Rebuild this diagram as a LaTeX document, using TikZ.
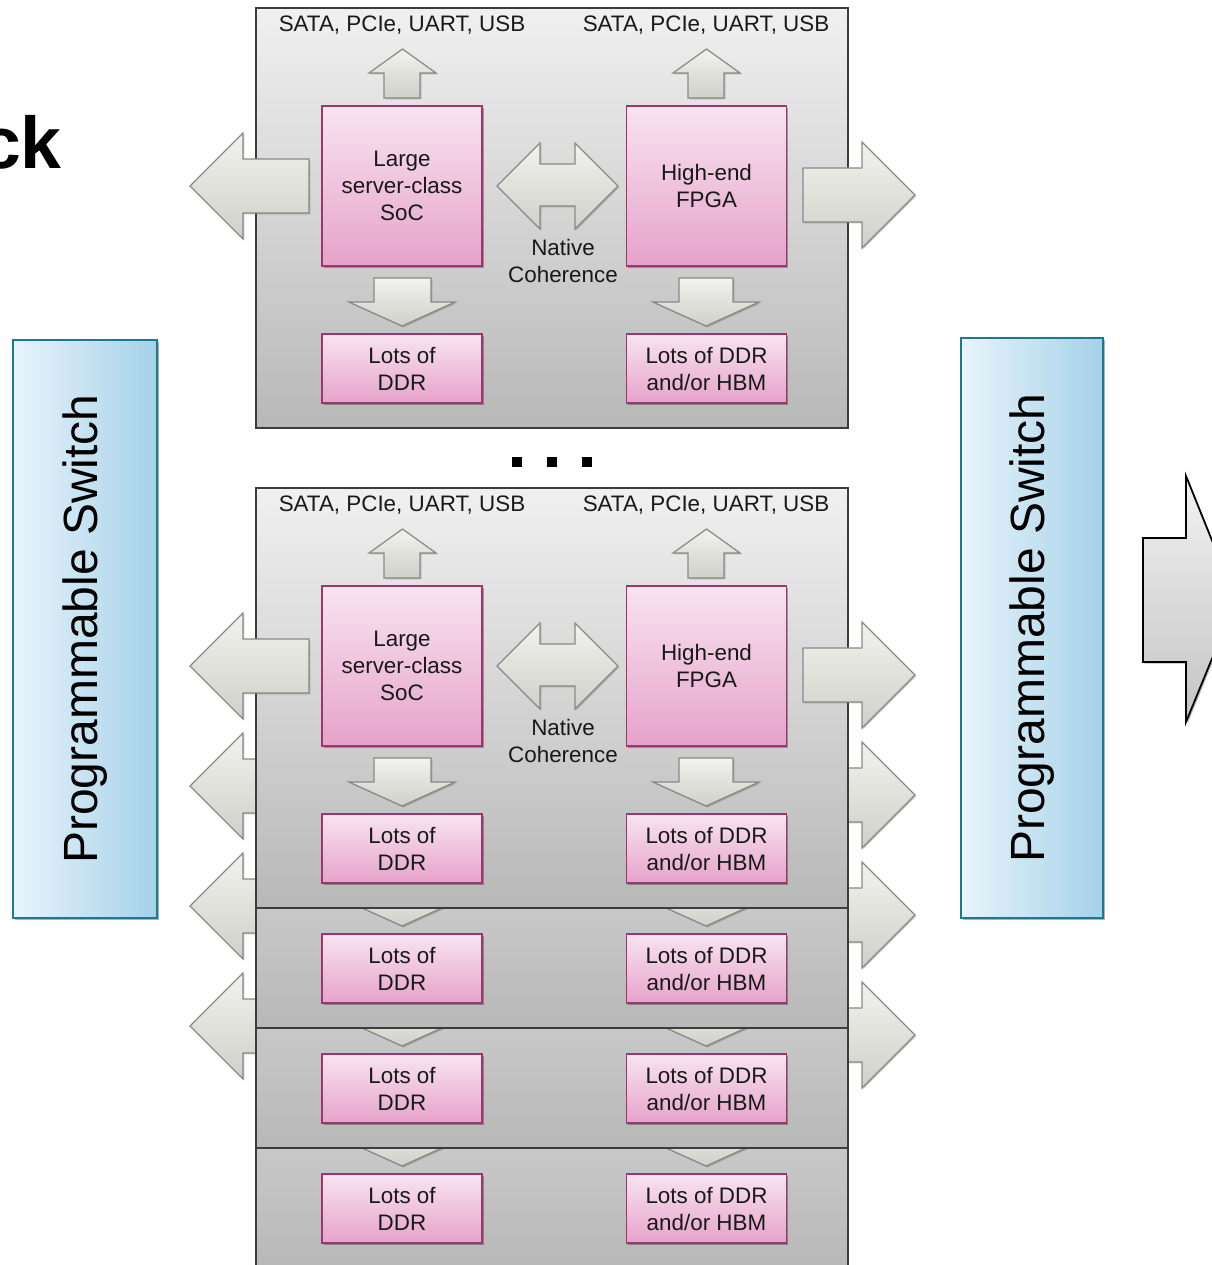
\documentclass[tikz,border=0pt]{standalone}
\usepackage{fontspec}
\setmainfont{Liberation Sans}
\usetikzlibrary{shadows}

\definecolor{pinkT}{HTML}{F8E4F0}
\definecolor{pinkB}{HTML}{E6A2CA}
\definecolor{pinkD}{HTML}{A0346F}
\definecolor{modT}{HTML}{F0F0F0}
\definecolor{modB}{HTML}{B8B8B8}
\definecolor{modD}{HTML}{3C3C3C}
\definecolor{arrT}{HTML}{F2F2EE}
\definecolor{arrB}{HTML}{D0D0CA}
\definecolor{arrD}{HTML}{8A8A82}
\definecolor{swLt}{HTML}{E8F4FB}
\definecolor{swDk}{HTML}{A5D1E8}
\definecolor{swBd}{HTML}{1E7894}
\definecolor{bigT}{HTML}{F2F2F2}
\definecolor{bigB}{HTML}{C4C4C4}

\tikzset{
  softshadow/.style={drop shadow={shadow xshift=1.2pt, shadow yshift=-1.2pt, opacity=0.3, fill=black}},
  lbl/.style={inner sep=0pt, align=center, font=\fontsize{16.8}{20.25}\selectfont, text=black!90},
  pinkbox/.style={draw=pinkD, line width=1.1pt, top color=pinkT, bottom color=pinkB,
    minimum width=120pt, inner sep=0pt, align=center, softshadow,
    font=\fontsize{16.8}{20.25}\selectfont, text=black!90},
  modbox/.style={draw=modD, line width=1.1pt, top color=modT, bottom color=modB,
    minimum width=444pt, minimum height=315pt, inner sep=0pt},
  grayarrow/.style={draw=arrD, line width=0.9pt, top color=arrT, bottom color=arrB,
    line join=miter, drop shadow={shadow xshift=1pt, shadow yshift=-1pt, opacity=0.2, fill=black}},
  switchbox/.style={rotate=90, draw=swBd, line width=1.5pt, left color=swLt, right color=swDk,
    inner sep=0pt, softshadow, font=\fontsize{36}{40}\selectfont},
  bigarrow/.style={draw=black, line width=1.3pt, top color=bigT, bottom color=bigB, softshadow},
  dotsq/.style={fill=black, minimum size=7.5pt, inner sep=0pt}
}

% module body: box, side arrows, memory arrows and memory boxes
\newcommand\modbase[2]{%
  \node[modbox] (mod#2) at (552,218+#1) {};
  \draw[grayarrow] (309,159+#1) -- (243,159+#1) -- (243,133+#1) -- (190,186+#1)
     -- (243,239+#1) -- (243,213+#1) -- (309,213+#1) -- cycle;
  \draw[grayarrow] (803,168+#1) -- (862,168+#1) -- (862,142+#1) -- (915,195+#1)
     -- (862,248+#1) -- (862,222+#1) -- (803,222+#1) -- cycle;
  \draw[grayarrow] (374,278+#1) -- (431,278+#1) -- (431,302+#1) -- (455,302+#1)
     -- (402,326+#1) -- (349,302+#1) -- (374,302+#1) -- cycle;
  \draw[grayarrow] (679,278+#1) -- (733,278+#1) -- (733,302+#1) -- (759,302+#1)
     -- (706,326+#1) -- (653,302+#1) -- (679,302+#1) -- cycle;
  \node[pinkbox, minimum height=51.75pt] (ddrL#2) at (402,368.5+#1) {Lots of\\DDR};
  \node[pinkbox, minimum height=51.75pt] (ddrR#2) at (706.5,368.5+#1) {Lots of DDR\\and/or HBM};
}
% module upper part: I/O, SoC, FPGA, coherence
\newcommand\modupper[2]{%
  \node[lbl] (sataL#2) at (402,25+#1) {SATA, PCIe, UART, USB};
  \node[lbl] (sataR#2) at (706,25+#1) {SATA, PCIe, UART, USB};
  \draw[grayarrow] (384,98+#1) -- (384,73+#1) -- (369,73+#1) -- (402.5,49+#1)
     -- (436,73+#1) -- (420,73+#1) -- (420,98+#1) -- cycle;
  \draw[grayarrow] (688,98+#1) -- (688,73+#1) -- (673,73+#1) -- (706.5,49+#1)
     -- (740,73+#1) -- (724,73+#1) -- (724,98+#1) -- cycle;
  \node[pinkbox, minimum height=120pt] (soc#2) at (402,186+#1) {Large\\server-class\\SoC};
  \node[pinkbox, minimum height=120pt] (fpga#2) at (706.5,186+#1) {High-end\\FPGA};
  \draw[grayarrow] (540,164+#1) -- (575,164+#1) -- (575,143+#1) -- (618,186+#1)
     -- (575,229+#1) -- (575,206+#1) -- (540,206+#1) -- (540,229+#1) -- (497,186+#1)
     -- (540,143+#1) -- cycle;
  \node[lbl] (coh#2) at (563,261+#1) {Native\\Coherence};
}

\begin{document}
\begin{tikzpicture}[x=0.75pt,y=-0.75pt]
\useasboundingbox (0,0) rectangle (1212,1265);
\clip (0,0) rectangle (1212,1265);

% title fragment
\node[anchor=base east, inner sep=0pt, font=\fontsize{55}{60}\selectfont\bfseries] (title) at (62,168) {ck};

% top module
\modbase{0}{1}
\modupper{0}{1}

% dots
\node[dotsq] (dot1) at (517,462) {};
\node[dotsq] (dot2) at (552,462) {};
\node[dotsq] (dot3) at (587,462) {};

% stacked modules, back to front (upper parts of the rear ones are hidden)
\modbase{840}{5}
\modbase{720}{4}
\modbase{600}{3}
\modbase{480}{2}
\modupper{480}{2}

% programmable switches
\node[switchbox, minimum width=433.5pt, minimum height=108pt] (swLeft) at (85,629) {Programmable Switch};
\node[switchbox, minimum width=435pt, minimum height=106.5pt] (swRight) at (1032,628) {Programmable Switch};

% big output arrow
\draw[bigarrow] (1143,538) -- (1186,538) -- (1186,476) -- (1236,600) -- (1186,722)
   -- (1186,662) -- (1143,662) -- cycle;
\end{tikzpicture}
\end{document}
